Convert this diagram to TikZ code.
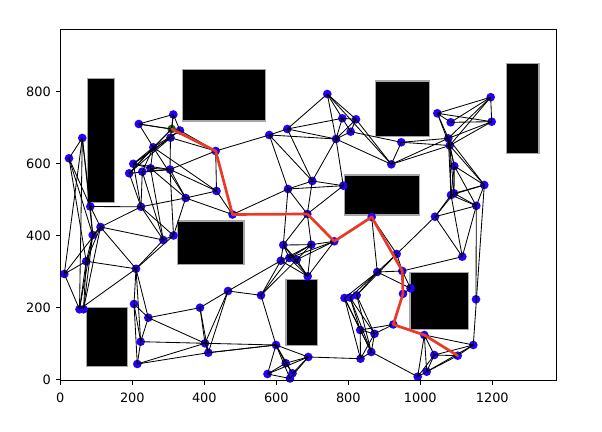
\documentclass[tikz,border=0pt]{standalone}
\usepackage{fontspec}
\setmainfont{DejaVu Sans}
\definecolor{nodeblue}{RGB}{36,0,255}
\definecolor{pathred}{RGB}{232,58,38}
\definecolor{startgreen}{RGB}{25,100,25}
\begin{document}
\begin{tikzpicture}[x=0.03cm,y=-0.03cm,
  dot/.style={circle,fill=nodeblue,inner sep=0pt,minimum size=7.4pt},
  startdot/.style={circle,fill=startgreen,inner sep=0pt,minimum size=7.4pt},
  edge/.style={black,line width=0.72pt},
  obstacle/.style={fill=black,draw=gray!70,line width=0.9pt},
  redpath/.style={pathred,line width=2.3pt,line join=round,line cap=round},
  axisline/.style={black,line width=0.75pt},
  ticklabel/.style={inner sep=0pt,font=\fontsize{11}{13}\selectfont}]
\useasboundingbox (0,0) rectangle (602,432);
\fill[white] (0,0) rectangle (602,432);
% obstacles
\filldraw[obstacle] (87.3,78.3) rectangle (114.3,202.7);
\filldraw[obstacle] (182.3,69.3) rectangle (265.7,121);
\filldraw[obstacle] (375.7,81) rectangle (429.3,136.7);
\filldraw[obstacle] (506.7,63.3) rectangle (539,153.3);
\filldraw[obstacle] (344.3,175) rectangle (419.3,215);
\filldraw[obstacle] (177.3,221) rectangle (244,264.3);
\filldraw[obstacle] (86.7,307.7) rectangle (127.7,366.7);
\filldraw[obstacle] (286,279.3) rectangle (317.7,345.7);
\filldraw[obstacle] (410,272.7) rectangle (468.3,329.3);
% nodes
\foreach \n/\x/\y in {
1/69/158.3, 2/82.3/138, 3/90.3/206.5, 4/100.5/227, 5/92.7/235, 6/86.2/261.3,
7/64.3/274, 8/79.5/309.3, 9/83.5/309.3, 10/136/268.8, 11/134/304, 12/148.3/317.7,
13/141/206.8, 14/163.3/240, 15/173.5/235.5, 16/138.8/124, 17/173.3/114.5,
19/180/130.5, 20/170.5/137.7, 21/153.3/147.3, 22/215.7/151, 23/133.3/163.8,
24/129.2/173.3, 25/142.3/171.7, 26/150.5/168.3, 27/170/169.5, 28/216.5/191,
29/185.7/198, 31/232.5/214.5, 32/327.3/94, 33/342.3/118.3, 34/356/119.3,
35/350.7/131.7, 36/336/139, 37/287.3/129, 38/269.3/135, 39/401.3/142.3,
40/391.3/164.3, 41/312.3/181, 42/288/189, 43/343.3/185.7, 44/437.3/113.3,
45/450.7/122.3, 46/490.7/97.2, 47/491.7/121.7, 48/448.3/138.3, 49/449.7/145.5,
50/454.3/166, 51/484.3/185, 52/454/193.3, 53/451/195, 54/476.3/205.8,
56/307.3/214, 57/334.3/241.3, 58/371.7/217, 59/283.3/245, 60/311.3/244.7,
61/280.8/260.7, 62/289.3/258, 63/296.7/259.7, 64/307.7/276.3, 65/261/295.3,
66/396.7/254, 67/377.3/272, 68/402.3/271, 69/403/293.8, 70/344.5/298,
71/350/297.5, 72/356.7/295.3, 74/276/345, 75/308.3/357, 76/285.7/363.2,
77/292.5/373.3, 78/267.5/374, 79/290/378.5, 80/360.2/330, 81/374.5/333.8,
82/360.5/358.7, 83/371.3/352, 84/393.3/324.5, 86/410.5/288.3, 88/435/216.7,
89/462.3/256.7, 91/476/299.3, 92/424.3/335, 93/473.3/345, 94/434.3/355,
95/457.7/355.7, 96/426.7/371.7, 97/417.7/376.7, 98/137.3/364, 99/140.7/341.7,
100/200/307.7, 101/228/291, 102/205/343.3, 103/208.3/352.7}
  {\node[dot] (n\n) at (\x,\y) {};}
\node[startdot] (n18) at (171.7,129) {};
% edges
\foreach \a/\b in {
1/2,1/3,1/5,1/6,2/3,2/5,2/8,7/2,3/4,3/5,3/13,4/13,4/10,4/14,4/5,4/6,5/6,
6/7,6/10,6/8,6/9,7/4,7/8,8/10,8/5,9/4,9/5,10/11,10/12,10/14,10/15,10/99,
11/12,11/99,11/98,12/99,12/100,12/102,13/14,13/15,13/29,13/23,13/24,13/25,14/15,
16/17,16/18,16/19,16/21,17/18,17/19,17/20,18/21,19/21,18/24,19/23,20/24,20/23,
20/27,27/15,19/22,20/22,22/28,22/38,21/28,21/29,21/23,21/24,21/25,21/26,
23/26,23/27,24/27,25/27,26/27,27/22,27/28,27/29,29/28,28/31,29/31,26/29,
25/14,26/14,29/15,
32/37,32/33,32/34,32/36,32/40,37/33,37/38,37/36,37/41,38/36,38/41,38/42,
33/34,33/35,33/36,34/35,34/36,35/36,34/40,35/39,36/40,39/40,40/49,36/43,
36/41,41/42,41/43,42/43,42/31,41/56,42/59,42/56,43/56,
44/46,44/47,44/45,44/48,44/49,45/46,45/47,46/47,46/48,46/49,47/48,47/49,
39/48,39/49,40/48,48/50,49/50,49/51,48/51,48/53,49/52,49/53,50/51,50/52,
50/53,50/54,51/52,51/53,51/54,52/54,53/54,53/88,52/88,53/89,54/88,54/89,
88/89,88/66,89/68,54/91,51/93,
56/59,56/60,60/64,59/60,59/61,59/62,59/63,59/64,60/61,60/62,60/63,60/57,
57/62,57/63,57/64,61/64,62/64,63/64,61/101,65/61,65/62,65/63,65/101,58/67,
58/66,66/67,66/68,67/68,67/70,67/71,67/72,66/72,68/86,67/86,86/69,
65/74,74/102,74/103,74/75,74/76,74/77,74/78,74/79,75/76,75/77,75/78,75/79,
76/77,76/78,78/79,75/82,70/80,70/83,71/80,71/81,71/83,72/81,72/83,70/82,
80/81,80/82,80/83,81/83,81/82,82/83,81/84,80/84,83/97,
92/93,92/94,92/96,92/97,93/94,93/95,93/96,94/95,94/96,94/97,95/96,96/97,
99/102,99/98,98/102,98/103,100/101,100/102,100/103,101/102,101/103,103/74,102/103}
  {\draw[edge] (n\a.center) -- (n\b.center);}
% path
\draw[redpath] (n18.center) -- (n22.center) -- (n31.center) -- (n56.center)
  -- (n57.center) -- (n58.center) -- (n68.center) -- (n69.center) -- (n84.center)
  -- (n92.center) -- (n95.center);
% axes
\draw[axisline] (60.3,29.3) rectangle (556.7,380);
\foreach \v/\p in {0/60.3,200/132.3,400/204.3,600/276.3,800/348.3,1000/420.3,1200/492.3}
  {\draw[axisline] (\p,380) -- (\p,384.6);
   \node[ticklabel,anchor=north] (xl\v) at (\p,392.5) {\v};}
\foreach \v/\p in {0/379.7,200/307.7,400/235.7,600/163.7,800/91.7}
  {\draw[axisline] (60.3,\p) -- (55.7,\p);
   \node[ticklabel,anchor=east] (yl\v) at (51,\p) {\v};}
\end{tikzpicture}
\end{document}
